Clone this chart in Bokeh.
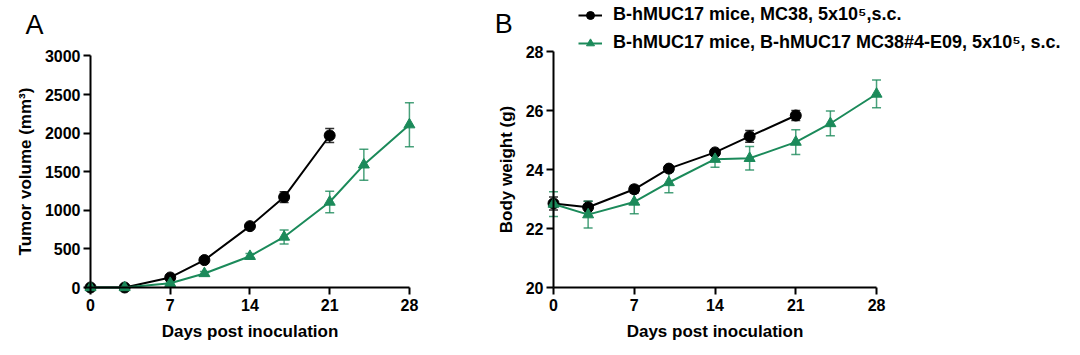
from bokeh.plotting import figure
from bokeh.models import ColumnDataSource, Whisker, TeeHead, Legend, LegendItem, Label, Range1d
from bokeh.layouts import row
from bokeh.embed import file_html
from bokeh.resources import INLINE

# ---- data ----
days_black = [0, 3, 7, 10, 14, 17, 21]
days_green = [0, 3, 7, 10, 14, 17, 21, 24, 28]

vol_black = [0, 0, 130, 355, 795, 1172, 1970]
vol_black_err = [0, 0, 25, 25, 30, 70, 90]
vol_green = [0, 0, 55, 182, 405, 655, 1108, 1590, 2110]
vol_green_err = [0, 0, 15, 25, 35, 90, 140, 200, 285]

bw_black = [22.85, 22.72, 23.33, 24.03, 24.58, 25.12, 25.83]
bw_black_err = [0.22, 0.2, 0.13, 0.1, 0.08, 0.2, 0.17]
bw_green = [22.83, 22.47, 22.9, 23.56, 24.35, 24.38, 24.93, 25.56, 26.56]
bw_green_err = [0.42, 0.45, 0.4, 0.35, 0.27, 0.4, 0.42, 0.42, 0.47]

x_ticks = [0, 7, 14, 21, 28]
vol_ticks = [0, 500, 1000, 1500, 2000, 2500, 3000]
bw_ticks = [20, 22, 24, 26, 28]

label_black = "B-hMUC17 mice, MC38, 5x10\u2075,s.c."
label_green = "B-hMUC17 mice, B-hMUC17 MC38#4-E09, 5x10\u2075, s.c."

BLACK = "#000000"
GREEN = "#1b8a5a"
FONT = "Liberation Sans"


def style(p, xlabel, ylabel, xb, yb, xt, yt, x0, y0):
    p.outline_line_color = None
    p.grid.visible = False
    p.xaxis.fixed_location = y0
    p.yaxis.fixed_location = x0
    p.xaxis.bounds = xb
    p.yaxis.bounds = yb
    p.xaxis.ticker = xt
    p.yaxis.ticker = yt
    for ax in (p.xaxis[0], p.yaxis[0]):
        ax.axis_line_width = 2
        ax.axis_line_color = "black"
        ax.major_tick_line_width = 2
        ax.major_tick_line_color = "black"
        ax.major_tick_out = 7
        ax.major_tick_in = 0
        ax.minor_tick_line_color = None
        ax.major_label_text_font = FONT
        ax.major_label_text_font_style = "bold"
        ax.major_label_text_font_size = "16px"
        ax.major_label_text_color = "black"
        ax.axis_label_text_font = FONT
        ax.axis_label_text_font_style = "bold"
        ax.axis_label_text_font_size = "17px"
        ax.axis_label_text_color = "black"
    p.xaxis.axis_label = xlabel
    p.yaxis.axis_label = ylabel
    p.xaxis.major_label_standoff = 4
    p.yaxis.major_label_standoff = 3
    p.xaxis.axis_label_standoff = 8
    p.yaxis.axis_label_standoff = 7


def series(p, xs, ys, errs, color, marker):
    src = ColumnDataSource(dict(x=xs, y=ys,
                                lo=[a - b for a, b in zip(ys, errs)],
                                hi=[a + b for a, b in zip(ys, errs)]))
    w = Whisker(base="x", lower="lo", upper="hi", source=src,
                line_color=color, line_width=1.5, line_alpha=0.8,
                upper_head=TeeHead(size=9, line_color=color, line_width=1.5, line_alpha=0.8),
                lower_head=TeeHead(size=9, line_color=color, line_width=1.5, line_alpha=0.8))
    p.add_layout(w)
    ln = p.line("x", "y", source=src, line_color=color, line_width=2)
    sc = p.scatter("x", "y", source=src, marker=marker, size=11,
                   fill_color=color, line_color=color)
    return ln, sc


# ---- Panel A ----  (frame covers whole canvas; axes fixed at the data origin)
pA = figure(width=480, height=355, output_backend="svg", toolbar_location=None,
            x_range=Range1d(-7.902, 34.241), y_range=Range1d(-881.2, 3719.2),
            min_border_left=0, min_border_right=0, min_border_top=0, min_border_bottom=0)
style(pA, "Days post inoculation", "Tumor volume (mm\u00b3)", (0, 28), (0, 3000),
      x_ticks, vol_ticks, 0, 0)
series(pA, days_black, vol_black, vol_black_err, BLACK, "circle")
series(pA, days_green, vol_green, vol_green_err, GREEN, "triangle")
pA.add_layout(Label(x=-5.7, y=3405, text="A", text_font=FONT, text_font_size="27px",
                    text_color="black", text_baseline="alphabetic"))

# ---- Panel B ----
pB = figure(width=600, height=355, output_backend="svg", toolbar_location=None,
            x_range=Range1d(-6.328, 45.68), y_range=Range1d(17.695, 29.729),
            min_border_left=0, min_border_right=0, min_border_top=0, min_border_bottom=0)
style(pB, "Days post inoculation", "Body weight (g)", (0, 28), (20, 28),
      x_ticks, bw_ticks, 0, 20)
lb, sb = series(pB, days_black, bw_black, bw_black_err, BLACK, "circle")
lg, sg = series(pB, days_green, bw_green, bw_green_err, GREEN, "triangle")
pB.add_layout(Label(x=-5.1, y=28.94, text="B", text_font=FONT, text_font_size="27px",
                    text_color="black", text_baseline="alphabetic"))

legend = Legend(items=[LegendItem(label=label_black, renderers=[lb, sb]),
                       LegendItem(label=label_green, renderers=[lg, sg])],
                location=(98, 302), orientation="vertical",
                padding=0, margin=0, spacing=7, label_height=20, glyph_height=20,
                glyph_width=24, label_standoff=11,
                label_text_font=FONT, label_text_font_style="bold",
                label_text_font_size="18px", label_text_color="black",
                background_fill_alpha=0, border_line_color=None)
pB.add_layout(legend)

layout = row(pA, pB)
open("out.html", "w").write(file_html(layout, INLINE))
